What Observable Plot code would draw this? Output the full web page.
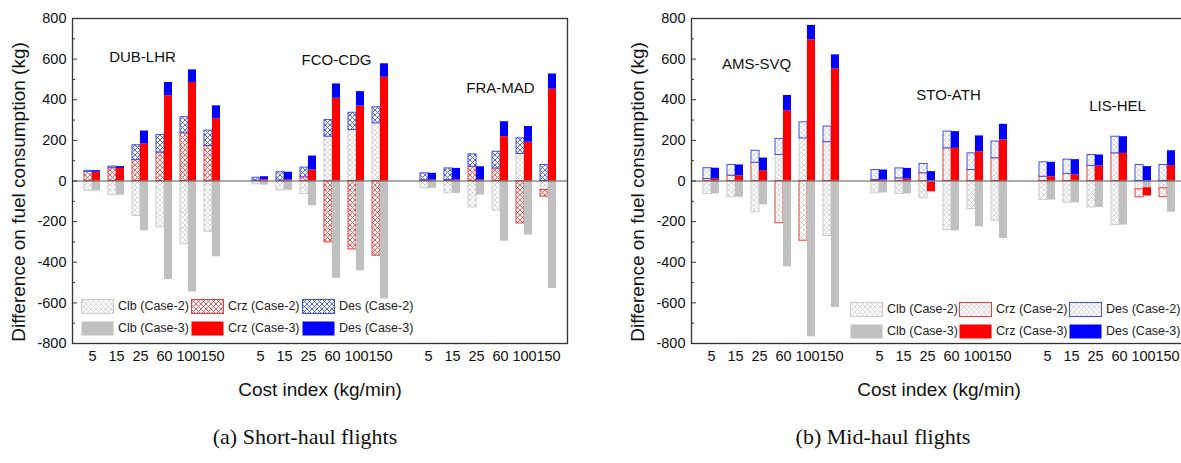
<!DOCTYPE html>
<html><head><meta charset="utf-8">
<script src="https://cdn.jsdelivr.net/npm/d3@7"></script>
<script src="https://cdn.jsdelivr.net/npm/@observablehq/plot@0.6"></script>
<style>
html,body{margin:0;padding:0;background:#fff;overflow:hidden;width:1181px;height:463px;}
#root{position:relative;width:1181px;height:463px;overflow:hidden;}
.panel{position:absolute;top:0;width:600px;height:400px;}
.panel svg{overflow:visible;max-width:none !important;width:600px !important;height:400px !important;}
.panel g[aria-label="x-axis label"] text{font-size:19px;}
.caption{position:absolute;top:424px;font-family:"Liberation Serif",serif;font-size:22px;color:#111;text-align:center;width:400px;white-space:nowrap;}
.lg{position:absolute;font-family:"Liberation Sans",Arial,sans-serif;font-size:12.5px;color:#222;white-space:nowrap;display:flex;align-items:center;}
.lg svg{margin-right:4px;flex:none;}
</style></head><body>
<svg width="0" height="0" style="position:absolute">
<defs>
<pattern id="hClb" patternUnits="userSpaceOnUse" width="5" height="5"><rect width="5" height="5" fill="#fff"/><path d="M0,0L5,5M5,0L0,5" stroke="#d2d2d2" stroke-width="0.9"/></pattern>
<pattern id="hCrzL" patternUnits="userSpaceOnUse" width="5" height="5"><rect width="5" height="5" fill="#fff"/><path d="M0,0L5,5M5,0L0,5" stroke="#ee4a4a" stroke-width="0.9"/></pattern>
<pattern id="hDesL" patternUnits="userSpaceOnUse" width="5" height="5"><rect width="5" height="5" fill="#fff"/><path d="M0,0L5,5M5,0L0,5" stroke="#3e52e6" stroke-width="0.9"/></pattern>
<pattern id="hCrzR" patternUnits="userSpaceOnUse" width="5" height="5"><rect width="5" height="5" fill="#fff"/><path d="M0,0L5,5M5,0L0,5" stroke="#dccfcf" stroke-width="0.9"/></pattern>
<pattern id="hDesR" patternUnits="userSpaceOnUse" width="5" height="5"><rect width="5" height="5" fill="#fff"/><path d="M0,0L5,5M5,0L0,5" stroke="#cfd0e2" stroke-width="0.9"/></pattern>
</defs></svg>
<div id="root"></div>
<script>
// ---------------- DATA ----------------
const costIndex = [5, 15, 25, 60, 100, 150];
const yMajorTicks = [-800, -600, -400, -200, 0, 200, 400, 600, 800];
const yMinorTicks = [-700, -500, -300, -100, 100, 300, 500, 700];
const legendLabels = ["Clb (Case-2)", "Crz (Case-2)", "Des (Case-2)", "Clb (Case-3)", "Crz (Case-3)", "Des (Case-3)"];
const yLabel = "Difference on fuel consumption (kg)";
const xLabel = "Cost index (kg/min)";

// (a) Short-haul flights
const shortRoutes = ["DUB-LHR", "FCO-CDG", "FRA-MAD"];
const shortClbCase2 = [
  [-49, -70, -172, -228, -311, -250],
  [-16, -46, -64, 218, 251, 284],
  [-36, -61, -130, -146, 133, -44]
];
const shortCrzCase2 = [
  [44, 63, 103, 140, 235, 172],
  [2, 2, 18, -302, -337, -368],
  [4, 5, 70, 62, -209, -33]
];
const shortDesCase2 = [
  [6, 8, 73, 87, 79, 76],
  [14, 41, 48, 82, 85, 79],
  [34, 57, 61, 82, 77, 79]
];
const shortClbCase3 = [
  [-49, -70, -245, -485, -547, -373],
  [-20, -46, -123, -479, -442, -580],
  [-36, -61, -69, -296, -266, -529]
];
const shortCrzCase3 = [
  [43, 62, 182, 420, 485, 307],
  [6, 5, 54, 407, 369, 511],
  [5, 5, 5, 218, 191, 452]
];
const shortDesCase3 = [
  [8, 9, 64, 65, 62, 63],
  [15, 38, 69, 71, 71, 66],
  [33, 57, 65, 74, 77, 75]
];

// (b) Mid-haul flights
const midRoutes = ["AMS-SVQ", "STO-ATH", "LIS-HEL"];
const midClbCase2 = [
  [-64, -80, -154, 128, 210, -271],
  [-61, -64, -85, -242, -138, -196],
  [-94, -107, -130, -217, -41, -36]
];
const midCrzCase2 = [
  [10, 26, 90, -208, -294, 191],
  [5, 13, 38, 161, 54, 112],
  [21, 35, 74, 136, -39, -44]
];
const midDesCase2 = [
  [53, 53, 59, 79, 79, 77],
  [49, 49, 46, 82, 82, 82],
  [71, 70, 54, 82, 79, 79]
];
const midClbCase3 = [
  [-64, -80, -117, -422, -767, -623],
  [-59, -64, -5, -245, -225, -283],
  [-94, -107, -130, -217, -33, -154]
];
const midCrzCase3 = [
  [10, 25, 51, 345, 695, 552],
  [5, 10, -48, 161, 144, 202],
  [21, 30, 74, 136, -41, 76]
];
const midDesCase3 = [
  [53, 54, 62, 76, 71, 69],
  [49, 52, 46, 82, 78, 77],
  [71, 75, 54, 82, 71, 73]
];

// ---------------- CHART ----------------
const root = document.getElementById("root");
const phases = ["clb", "crz", "des"];

function buildPanel(cfg) {
  const domain = [], tickKeys = [];
  cfg.routes.forEach((r, i) => {
    if (i) domain.push("gap" + i);
    costIndex.forEach(c => { domain.push(r + "|" + c); tickKeys.push(r + "|" + c); });
  });
  const rows = (sets) => {
    const out = [];
    cfg.routes.forEach((r, i) => costIndex.forEach((c, k) => {
      phases.forEach((p, j) => out.push({slot: r + "|" + c, phase: p, value: sets[j][i][k]}));
    }));
    return out;
  };
  const rows2 = rows(cfg.case2), rows3 = rows(cfg.case3);
  const fill2 = {clb: "url(#hClb)", crz: cfg.crzPat, des: cfg.desPat};
  const stroke2 = {clb: "#cccccc", crz: "#ee3c3c", des: "#3f4ff0"};
  const fill3 = {clb: "#c0c0c0", crz: "#ff0000", des: "#0000ff"};
  const half = 7.95;
  const plot = Plot.plot({
    width: 600, height: 400,
    marginLeft: 72, marginRight: 33, marginTop: 18, marginBottom: 57,
    style: {fontFamily: "Liberation Sans, Arial, sans-serif", fontSize: "14.5px", color: "#111", background: "transparent", overflow: "visible"},
    x: {type: "band", domain, paddingInner: 0.35, paddingOuter: 0.29},
    y: {domain: [-800, 800]},
    color: {type: "identity"},
    marks: [
      Plot.barY(rows2, Plot.stackY({x: "slot", y: "value", fill: d => fill2[d.phase], stroke: d => stroke2[d.phase], strokeWidth: 1, insetRight: half})),
      Plot.barY(rows3, Plot.stackY({x: "slot", y: "value", fill: d => fill3[d.phase], insetLeft: half})),
      Plot.ruleY([0], {stroke: "#555", strokeWidth: 1.2}),
      Plot.tickY(yMajorTicks, {y: d => d, stroke: "#333", insetRight: 490}),
      Plot.tickY(yMinorTicks, {y: d => d, stroke: "#333", insetRight: 492}),
      Plot.axisY({ticks: yMajorTicks, tickSize: 0, tickPadding: 6, tickFormat: d => String(d), label: null}),
      Plot.text([yLabel], {frameAnchor: "left", rotate: -90, dx: -54, dy: 11, fontSize: 19, textAnchor: "middle", lineAnchor: "middle", fill: "#111"}),
      Plot.axisX({ticks: tickKeys, tickSize: 0, tickPadding: 7, tickFormat: k => k.split("|")[1],
        label: xLabel, labelAnchor: "center", labelArrow: "none", labelOffset: 52}),
      ...cfg.labels.map(l => Plot.text([l], {x: d => d.slot, y: d => d.y, text: d => d.name, dx: l.dx, fontSize: 15, fill: "#111"})),
      Plot.frame({stroke: "#333", strokeWidth: 1.3})
    ]
  });
  plot.style.maxWidth = "none";
  const wrap = document.createElement("div");
  wrap.className = "panel";
  wrap.style.left = cfg.left + "px";
  wrap.appendChild(plot);
  root.appendChild(wrap);

  // legend (inside plot area)
  const sw = [
    {fill: "url(#hClb)", stroke: "#cccccc"}, {fill: cfg.crzPat, stroke: "#ee3c3c"}, {fill: cfg.desPat, stroke: "#3f4ff0"},
    {fill: "#c0c0c0", stroke: "none"}, {fill: "#ff0000", stroke: "none"}, {fill: "#0000ff", stroke: "none"}
  ];
  legendLabels.forEach((lab, i) => {
    const d = document.createElement("div");
    d.className = "lg";
    d.style.left = cfg.legendCols[i % 3] + "px";
    d.style.top = (cfg.legendRows[Math.floor(i / 3)] - 8) + "px";
    d.style.height = "16px";
    d.innerHTML = `<svg width="33" height="15"><rect x="0.5" y="0.5" width="32" height="14" fill="${sw[i].fill}" stroke="${sw[i].stroke}" stroke-width="1"/></svg><span>${lab}</span>`;
    root.appendChild(d);
  });

  const cap = document.createElement("div");
  cap.className = "caption";
  cap.style.left = (cfg.captionCenter - 200) + "px";
  cap.textContent = cfg.caption;
  root.appendChild(cap);
}

buildPanel({
  left: 0,
  routes: shortRoutes,
  case2: [shortClbCase2, shortCrzCase2, shortDesCase2],
  case3: [shortClbCase3, shortCrzCase3, shortDesCase3],
  crzPat: "url(#hCrzL)", desPat: "url(#hDesL)",
  labels: [
    {slot: "DUB-LHR|25", y: 610, name: "DUB-LHR", dx: 2},
    {slot: "FCO-CDG|60", y: 596, name: "FCO-CDG", dx: 4},
    {slot: "FRA-MAD|60", y: 457, name: "FRA-MAD", dx: 0}
  ],
  legendCols: [81, 191, 302], legendRows: [306, 328],
  caption: "(a) Short-haul flights", captionCenter: 305
});
buildPanel({
  left: 619,
  routes: midRoutes,
  case2: [midClbCase2, midCrzCase2, midDesCase2],
  case3: [midClbCase3, midCrzCase3, midDesCase3],
  crzPat: "url(#hCrzR)", desPat: "url(#hDesR)",
  labels: [
    {slot: "AMS-SVQ|25", y: 575, name: "AMS-SVQ", dx: -3},
    {slot: "STO-ATH|60", y: 424, name: "STO-ATH", dx: -3},
    {slot: "LIS-HEL|60", y: 370, name: "LIS-HEL", dx: -2}
  ],
  legendCols: [850, 959, 1069], legendRows: [309, 331],
  caption: "(b) Mid-haul flights", captionCenter: 883
});
</script></body></html>
